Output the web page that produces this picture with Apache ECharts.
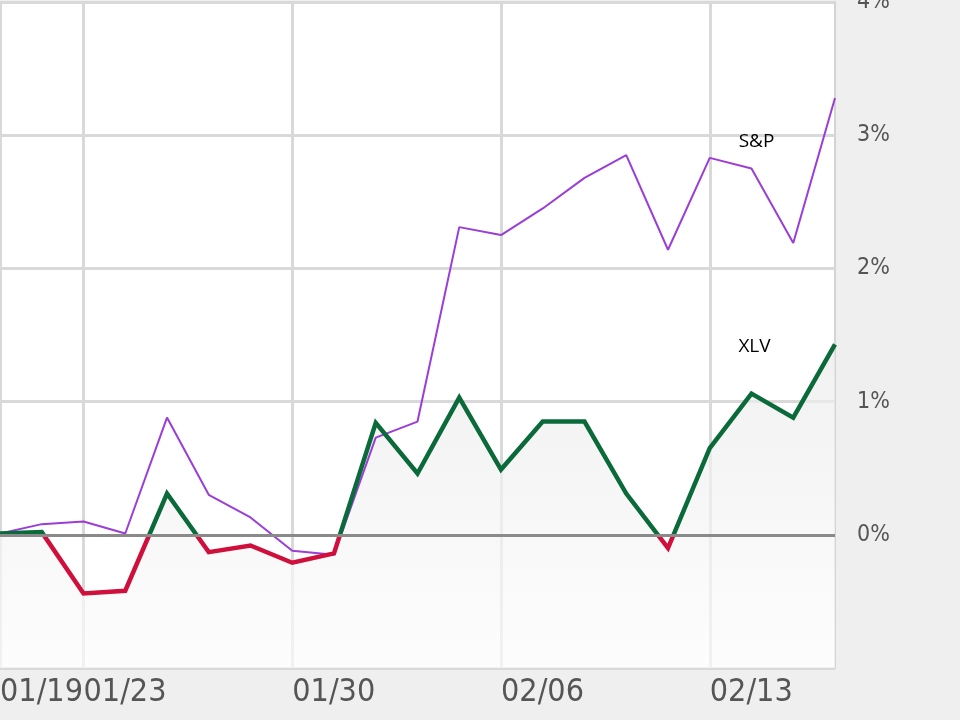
<!DOCTYPE html>
<html>
<head>
<meta charset="utf-8">
<script src="https://cdn.jsdelivr.net/npm/echarts@6/dist/echarts.min.js"></script>
<style>
html,body{margin:0;padding:0;background:#efefef;}
#chart{width:960px;height:720px;}
</style>
</head>
<body>
<div id="chart"></div>
<script>
const dates = ['01/19','01/20','01/23','01/24','01/25','01/26','01/27','01/30','01/31','02/01','02/02','02/03','02/06','02/07','02/08','02/09','02/10','02/13','02/14','02/15','02/16'];
const spValues = [0.01, 0.08, 0.10, 0.01, 0.88, 0.30, 0.13, -0.12, -0.15, 0.73, 0.85, 2.31, 2.25, 2.45, 2.68, 2.85, 2.14, 2.83, 2.75, 2.19, 3.28];
const xlvValues = [0.01, 0.02, -0.44, -0.42, 0.31, -0.13, -0.08, -0.21, -0.14, 0.84, 0.46, 1.03, 0.49, 0.85, 0.85, 0.31, -0.10, 0.65, 1.06, 0.88, 1.43];
const labeledDates = ['01/19','01/23','01/30','02/06','02/13'];
const yTicks = [-1, 0, 1, 2, 3, 4];
const seriesNames = ['S&P', 'XLV'];

const chart = echarts.init(document.getElementById('chart'));
const showIdx = (i, v) => labeledDates.indexOf(dates[i]) >= 0;
const axisFont = '"Liberation Sans Narrow", "DejaVu Sans Condensed", sans-serif';

chart.setOption({
  backgroundColor: '#efefef',
  animation: false,
  grid: {
    left: 0, right: 125, top: 2, bottom: 52,
    containLabel: false,
    outerBoundsMode: 'none',
    show: true, backgroundColor: '#ffffff', borderColor: '#d4d4d4', borderWidth: 2
  },
  xAxis: {
    type: 'category',
    data: dates,
    boundaryGap: false,
    axisLine: { show: false },
    axisTick: { show: false },
    axisLabel: {
      interval: showIdx,
      showMinLabel: true,
      hideOverlap: false,
      align: 'left',
      margin: 9,
      color: '#555',
      fontSize: 32,
      fontFamily: axisFont
    },
    splitLine: { show: true, interval: showIdx, lineStyle: { color: '#d9d9d9', width: 3 } }
  },
  yAxis: {
    type: 'value',
    position: 'right',
    min: yTicks[0], max: yTicks[yTicks.length - 1], interval: 1,
    axisLine: { show: false },
    axisTick: { show: false },
    axisLabel: {
      margin: 22,
      align: 'left',
      color: '#555',
      fontSize: 23,
      fontFamily: axisFont,
      formatter: v => (v < 0 ? '' : v + '%')
    },
    splitLine: { show: true, lineStyle: { color: '#d9d9d9', width: 3 } }
  },
  visualMap: {
    show: false,
    type: 'piecewise',
    seriesIndex: 1,
    dimension: 1,
    pieces: [
      { gt: -10, lte: 0, color: '#d0103c' },
      { gt: 0, lte: 10, color: '#0a6a3a' }
    ]
  },
  series: [
    {
      name: seriesNames[1],
      type: 'line',
      data: xlvValues,
      symbol: 'none',
      z: 1,
      lineStyle: { opacity: 0 },
      areaStyle: {
        origin: 'start',
        color: new echarts.graphic.LinearGradient(0, 0, 0, 1, [
          { offset: 0, color: '#ebebeb' },
          { offset: 1, color: '#fcfcfc' }
        ])
      },
      markLine: {
        silent: true, symbol: 'none', label: { show: false },
        lineStyle: { color: '#8a8a8a', width: 3, type: 'solid' },
        data: [{ yAxis: 0 }]
      }
    },
    {
      name: seriesNames[1],
      type: 'line',
      data: xlvValues,
      symbol: 'none',
      z: 3,
      lineStyle: { width: 4.5, join: 'miter' },
      markPoint: {
        symbol: 'circle', symbolSize: 1, itemStyle: { color: 'rgba(0,0,0,0)' },
        label: { show: true, formatter: seriesNames[1], color: '#000', fontSize: 19, fontFamily: '"Open Sans", sans-serif', offset: [3, 0] },
        data: [{ coord: ['02/14', 1.41] }]
      }
    },
    {
      name: seriesNames[0],
      type: 'line',
      data: spValues,
      symbol: 'none',
      z: 2,
      lineStyle: { width: 2, color: '#9b3dd6' },
      itemStyle: { color: '#9b3dd6' },
      markPoint: {
        symbol: 'circle', symbolSize: 1, itemStyle: { color: 'rgba(0,0,0,0)' },
        label: { show: true, formatter: seriesNames[0], color: '#000', fontSize: 19, fontFamily: '"Open Sans", sans-serif', offset: [5, 0] },
        data: [{ coord: ['02/14', 2.95] }]
      }
    }
  ]
});
</script>
</body>
</html>
